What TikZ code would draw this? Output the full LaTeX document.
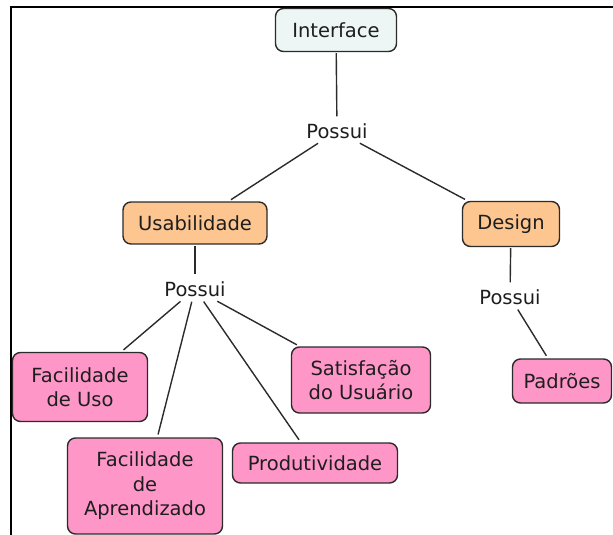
\documentclass[tikz,border=0pt]{standalone}
\usepackage{fontspec}
\setmainfont{DejaVu Sans}
\definecolor{boxline}{HTML}{2B2B2B}
\definecolor{txt}{HTML}{1E1E1E}
\definecolor{ifill}{HTML}{EDF5F5}
\definecolor{ofill}{HTML}{FDC590}
\definecolor{pfill}{HTML}{FE96C8}
\begin{document}
\begin{tikzpicture}[x=1pt,y=-1pt,
  box/.style={draw=boxline, line width=1.4pt, rounded corners=8pt, inner sep=0pt,
    align=center, font=\fontsize{19.5}{24.5}\selectfont, text=txt},
  topbox/.style={box, fill=ifill},
  midbox/.style={box, fill=ofill},
  leafbox/.style={box, fill=pfill},
  linklabel/.style={inner sep=4pt, font=\fontsize{19.5}{24.5}\selectfont, text=txt},
  link/.style={draw=boxline, line width=1.4pt, shorten <=1pt, shorten >=3pt}
]
\useasboundingbox (0,0) rectangle (613,535);
% frame
\draw[line width=2.4pt, black] (11,535) -- (11,7) -- (613,7);

\node[topbox, minimum width=121pt, minimum height=43pt] (iface) at (336,30) {Interface};
\node[linklabel] (p1) at (337,131) {Possui};
\node[midbox, minimum width=144pt, minimum height=42pt] (usab) at (195,223) {Usabilidade};
\node[midbox, minimum width=97pt, minimum height=45pt] (design) at (511,224) {Design};
\node[linklabel] (p2) at (195,289) {Possui};
\node[linklabel] (p3) at (510,297) {Possui};
\node[leafbox, minimum width=135pt, minimum height=69pt] (facuso) at (80,387) {Facilidade\\de Uso};
\node[leafbox, minimum width=155pt, minimum height=96pt] (facapr) at (145,486) {Facilidade\\de\\Aprendizado};
\node[leafbox, minimum width=165pt, minimum height=40pt] (prod) at (315,463) {Produtividade};
\node[leafbox, minimum width=139pt, minimum height=66pt] (satis) at (361,380) {Satisfação\\do Usuário};
\node[leafbox, minimum width=99pt, minimum height=44pt] (padr) at (562,381) {Padrões};

\draw[link] (iface) -- (p1);
\draw[link] (p1) -- (usab);
\draw[link] (p1) -- (design);
\draw[link] (usab) -- (p2);
\draw[link] (design) -- (p3);
\draw[link] (p2) -- (facuso);
\draw[link] (p2) -- (facapr);
\draw[link] (p2) -- (prod);
\draw[link] (p2) -- (satis);
\draw[link] (p3) -- (padr);
\end{tikzpicture}
\end{document}
